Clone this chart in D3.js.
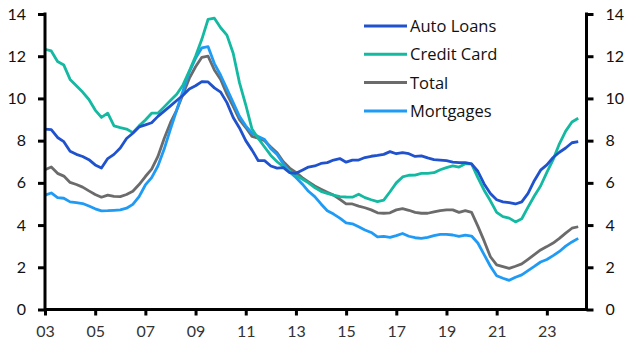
<!DOCTYPE html>
<html><head><meta charset="utf-8">
<script src="https://cdn.jsdelivr.net/npm/d3@7"></script>
<style>body{margin:0;background:#fff;}svg{display:block;font-family:Lato,"Open Sans",sans-serif;}</style>
</head><body><svg id="c" width="629" height="355"></svg>
<script>
const startYear = 2003;
const xTickYears = [2003,2005,2007,2009,2011,2013,2015,2017,2019,2021,2023];
const xTickLabels = ["03","05","07","09","11","13","15","17","19","21","23"];
const yTicks = [0,2,4,6,8,10,12,14];
const seriesNames = ["Auto Loans","Credit Card","Total","Mortgages"];
const seriesColors = ["#1f52cc","#13b9a1","#6b6b6b","#1f9bf5"];

const autoLoans = [8.55,8.52,8.15,7.95,7.5,7.35,7.25,7.1,6.85,6.7,7.15,7.35,7.65,8.1,8.35,8.65,8.75,8.85,9.15,9.4,9.65,9.9,10.15,10.45,10.6,10.8,10.78,10.5,10.3,9.8,9.1,8.6,8.0,7.55,7.05,7.05,6.8,6.7,6.72,6.48,6.45,6.6,6.75,6.8,6.92,6.96,7.08,7.15,6.98,7.08,7.08,7.2,7.26,7.3,7.35,7.48,7.38,7.43,7.38,7.25,7.28,7.18,7.1,7.08,7.05,6.98,6.96,6.96,6.9,6.55,5.95,5.5,5.2,5.1,5.06,5.0,5.1,5.5,6.1,6.6,6.85,7.2,7.45,7.65,7.9,7.95];
const creditCard = [12.33,12.25,11.75,11.58,10.9,10.6,10.3,9.95,9.45,9.1,9.3,8.7,8.62,8.55,8.38,8.7,8.98,9.3,9.3,9.6,9.9,10.2,10.64,11.3,12.0,12.8,13.75,13.8,13.35,13.0,12.14,10.75,9.7,8.55,8.1,7.7,7.3,7.0,6.77,6.55,6.35,6.18,6.0,5.78,5.6,5.5,5.42,5.35,5.33,5.32,5.46,5.3,5.2,5.11,5.18,5.58,6.0,6.28,6.36,6.37,6.45,6.45,6.48,6.62,6.72,6.8,6.75,6.9,6.9,6.25,5.65,5.15,4.6,4.4,4.33,4.15,4.3,4.85,5.38,5.85,6.5,7.1,7.85,8.45,8.88,9.06];
const total = [6.62,6.75,6.45,6.32,6.02,5.92,5.8,5.62,5.45,5.32,5.42,5.36,5.35,5.45,5.6,5.92,6.3,6.65,7.25,8.1,8.85,9.45,10.2,10.95,11.5,11.95,12.0,11.35,10.9,10.2,9.62,9.0,8.62,8.2,8.12,8.0,7.7,7.42,7.0,6.7,6.5,6.25,6.05,5.85,5.7,5.55,5.42,5.22,5.0,5.0,4.9,4.82,4.72,4.58,4.56,4.58,4.72,4.78,4.7,4.6,4.56,4.56,4.62,4.68,4.72,4.72,4.6,4.68,4.6,3.95,3.25,2.5,2.11,2.03,1.95,2.05,2.16,2.38,2.6,2.82,2.98,3.15,3.37,3.62,3.85,3.92];
const mortgages = [5.42,5.52,5.3,5.27,5.1,5.06,5.02,4.9,4.77,4.67,4.68,4.7,4.72,4.8,4.98,5.35,5.9,6.25,6.8,7.6,8.55,9.45,10.35,11.25,11.9,12.4,12.45,11.65,11.1,10.45,9.8,9.15,8.7,8.35,8.2,8.05,7.62,7.35,6.9,6.52,6.25,5.95,5.6,5.35,5.0,4.68,4.52,4.33,4.1,4.06,3.92,3.77,3.65,3.44,3.46,3.42,3.5,3.6,3.47,3.4,3.37,3.42,3.5,3.56,3.56,3.53,3.46,3.52,3.48,3.15,2.6,2.05,1.6,1.48,1.38,1.53,1.64,1.84,2.04,2.25,2.37,2.55,2.75,3.0,3.2,3.37];

const seriesData = [autoLoans, creditCard, total, mortgages];

const svg = d3.select("#c");
const L = 45, R = 586.5, T = 14, B = 309.5;
const x = d3.scaleLinear().domain([2003, 2024.58]).range([L, R]);
const y = d3.scaleLinear().domain([0, 14]).range([B, T]);

const line = d3.line().x((d,i) => x(startYear + i/4)).y(d => y(d));
const order = [2,3,1,0];
order.forEach(k => {
  svg.append("path").datum(seriesData[k])
    .attr("fill","none").attr("stroke",seriesColors[k])
    .attr("stroke-width",2.8).attr("stroke-linejoin","round")
    .attr("d", line);
});

const fontSize = 16;
const leftAxis = d3.axisLeft(y).tickValues(yTicks).tickSize(7).tickPadding(12).tickFormat(d3.format("d"));
const rightAxis = d3.axisRight(y).tickValues(yTicks).tickSize(7).tickPadding(12).tickFormat(d3.format("d"));
const bottomAxis = d3.axisBottom(x).tickValues(xTickYears).tickSize(6).tickPadding(10).tickFormat((d,i)=>xTickLabels[i]);

function styleAxis(g){
  g.select(".domain").remove();
  g.selectAll(".tick line").attr("stroke","#000").attr("stroke-width",3);
  g.selectAll(".tick text").attr("font-size",fontSize).attr("fill","#111").attr("font-family","Lato, 'Open Sans', sans-serif");
}
const gl = svg.append("g").attr("transform",`translate(${L},0)`).call(leftAxis); styleAxis(gl);
const gr = svg.append("g").attr("transform",`translate(${R},0)`).call(rightAxis); styleAxis(gr);
const gb = svg.append("g").attr("transform",`translate(0,${B})`).call(bottomAxis); styleAxis(gb);
gb.selectAll(".tick text").attr("fill","#333");

svg.append("line").attr("x1",L).attr("x2",L).attr("y1",T-1.5).attr("y2",B+1.5).attr("stroke","#000").attr("stroke-width",3);
svg.append("line").attr("x1",R).attr("x2",R).attr("y1",T-1.5).attr("y2",B+1.5).attr("stroke","#000").attr("stroke-width",3);
svg.append("line").attr("x1",L).attr("x2",R).attr("y1",B).attr("y2",B).attr("stroke","#000").attr("stroke-width",3);

const legY0 = 26, legDy = 28.3;
seriesNames.forEach((n,i) => {
  const g = svg.append("g").attr("transform",`translate(364,${legY0 + i*legDy})`);
  g.append("line").attr("x1",0).attr("x2",43).attr("y1",0).attr("y2",0).attr("stroke",seriesColors[i]).attr("stroke-width",3);
  g.append("text").attr("x",46).attr("y",0).attr("dy","0.36em").attr("font-size",16.5)
    .attr("font-family","'Open Sans', sans-serif").attr("fill","#111").text(n);
});
</script></body></html>
